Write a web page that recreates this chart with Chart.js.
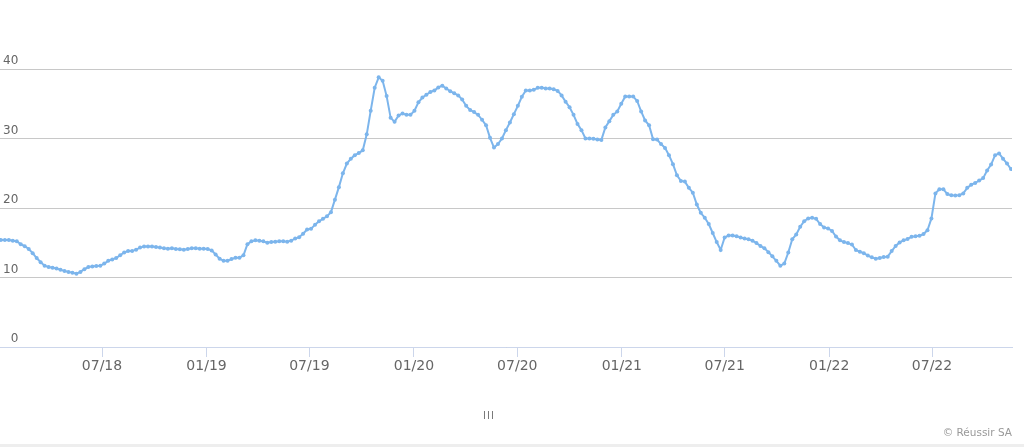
<!DOCTYPE html>
<html>
<head>
<meta charset="utf-8">
<script src="https://cdn.jsdelivr.net/npm/chart.js@4.4.0/dist/chart.umd.min.js"></script>
<style>
  html, body { margin: 0; padding: 0; background: #fff; }
  #wrap { position: relative; width: 1024px; height: 447px; overflow: hidden; }
  #chart { position: absolute; left: 0; top: 0; }
  .note { position: absolute; font-family: 'DejaVu Sans', sans-serif; white-space: nowrap; }
  #grip { left: 483px; top: 410px; font-size: 10px; color: #777; letter-spacing: 1px; }
  #credit { right: 12px; top: 426px; font-size: 10.5px; color: #999; }
  #foot { position: absolute; left: 0; bottom: 0; width: 1024px; height: 3px; background: #eeeeee; }
</style>
</head>
<body>
<div id="wrap">
  <canvas id="chart" width="1024" height="447"></canvas>
  <div class="note" id="grip">III</div>
  <div class="note" id="credit">© Réussir SA</div>
  <div id="foot"></div>
</div>
<script>
// weekly series, first week
const firstWeek = '2018-01-04';

// values, one per week
const values = [
  15.4, 15.4, 15.4, 15.3, 15.2, 14.8, 14.5, 14.1, 13.5, 12.8,
  12.2, 11.7, 11.5, 11.4, 11.3, 11.1, 10.95, 10.8, 10.7, 10.55,
  10.8, 11.2, 11.5, 11.6, 11.65, 11.7, 12.0, 12.4, 12.6, 12.8,
  13.2, 13.6, 13.8, 13.8, 14.0, 14.3, 14.45, 14.45, 14.45, 14.4,
  14.3, 14.2, 14.15, 14.2, 14.1, 14.05, 14.0, 14.1, 14.2, 14.2,
  14.15, 14.15, 14.1, 13.9, 13.3, 12.7, 12.4, 12.4, 12.65, 12.85,
  12.85, 13.2, 14.8, 15.2, 15.35, 15.3, 15.2, 15.0, 15.1, 15.15,
  15.2, 15.2, 15.15, 15.3, 15.6, 15.8, 16.3, 16.9, 17.0, 17.6,
  18.1, 18.45, 18.8, 19.4, 21.2, 23.0, 25.0, 26.4, 27.1, 27.6,
  27.9, 28.3, 30.6, 34.0, 37.3, 38.8, 38.3, 36.1, 33.0, 32.4,
  33.3, 33.6, 33.4, 33.4, 34.0, 35.2, 35.9, 36.3, 36.7, 36.9,
  37.35, 37.6, 37.2, 36.8, 36.5, 36.2, 35.6, 34.7, 34.1, 33.8,
  33.4, 32.7, 31.9, 30.1, 28.7, 29.2, 30.0, 31.2, 32.3, 33.5,
  34.7, 36.0, 36.9, 36.9, 37.0, 37.3, 37.3, 37.2, 37.2, 37.1,
  36.85, 36.2, 35.3, 34.5, 33.4, 32.1, 31.2, 30.0, 30.0, 29.95,
  29.85, 29.8, 31.6, 32.5, 33.4, 33.9, 35.0, 36.05, 36.05, 36.05,
  35.4, 33.9, 32.6, 31.9, 29.9, 29.85, 29.2, 28.65, 27.6, 26.3,
  24.7, 23.9, 23.8, 22.9, 22.2, 20.5, 19.3, 18.6, 17.7, 16.4,
  15.1, 13.96, 15.75, 16.05, 16.05, 15.95, 15.75, 15.6, 15.5, 15.3,
  14.95, 14.55, 14.2, 13.65, 13.05, 12.4, 11.7, 12.0, 13.6, 15.5,
  16.2, 17.3, 18.1, 18.5, 18.6, 18.45, 17.7, 17.2, 17.05, 16.7,
  15.9, 15.35, 15.1, 14.95, 14.75, 13.95, 13.7, 13.5, 13.15, 12.9,
  12.7, 12.8, 12.95, 13.0, 13.8, 14.55, 15.05, 15.35, 15.55, 15.85,
  15.95, 16.0, 16.25, 16.8, 18.5, 22.1, 22.7, 22.7, 22.0, 21.85,
  21.8, 21.85, 22.1, 22.9, 23.35, 23.6, 23.95, 24.3, 25.4, 26.25,
  27.6, 27.85, 27.1, 26.4, 25.6
];

const xTickLabels = ['07/18', '01/19', '07/19', '01/20', '07/20', '01/21', '07/21', '01/22', '07/22'];
const yTickValues = [0, 10, 20, 30, 40];

const DAY = 86400000;
const t0 = Date.parse(firstWeek + 'T00:00:00Z');
const points = values.map((v, i) => ({ x: t0 + i * 7 * DAY, y: v }));

// "MM/YY" -> timestamp of the 1st of that month
const tickTimes = xTickLabels.map(s => {
  const [m, y] = s.split('/');
  return Date.UTC(2000 + Number(y), Number(m) - 1, 1);
});

const fontFamily = "'DejaVu Sans', sans-serif";

new Chart(document.getElementById('chart'), {
  type: 'line',
  data: {
    datasets: [{
      data: points,
      borderColor: '#7cb5ec',
      backgroundColor: '#7cb5ec',
      borderWidth: 2,
      pointRadius: 2,
      pointBorderWidth: 0,
      pointBackgroundColor: '#7cb5ec',
      tension: 0
    }]
  },
  options: {
    responsive: false,
    animation: false,
    layout: { autoPadding: false, padding: { top: 69, bottom: 60, left: 0, right: 12 } },
    plugins: { legend: { display: false }, tooltip: { enabled: false } },
    scales: {
      x: {
        type: 'linear',
        min: Date.UTC(2018, 0, 2, 11),
        max: Date.UTC(2022, 10, 18, 19),
        afterBuildTicks: scale => { scale.ticks = tickTimes.map(v => ({ value: v })); },
        afterFit: scale => { scale.height = 40; },
        grid: { drawOnChartArea: false, drawTicks: true, tickLength: 10, color: '#ccd6eb' },
        border: { color: '#ccd6eb', width: 1 },
        ticks: {
          autoSkip: false,
          maxRotation: 0,
          padding: 1,
          color: '#666666',
          font: { family: fontFamily, size: 14 },
          callback: v => xTickLabels[tickTimes.indexOf(v)]
        }
      },
      y: {
        min: 0,
        max: 40,
        afterBuildTicks: scale => { scale.ticks = yTickValues.map(v => ({ value: v })); },
        afterFit: scale => { scale.width = 0; },
        grid: { color: '#c8c8c8', drawTicks: false },
        border: { display: false },
        ticks: {
          mirror: true,
          crossAlign: 'far',
          padding: 3,
          labelOffset: -8,
          color: '#666666',
          font: { family: fontFamily, size: 12 }
        }
      }
    }
  }
});
</script>
</body>
</html>
